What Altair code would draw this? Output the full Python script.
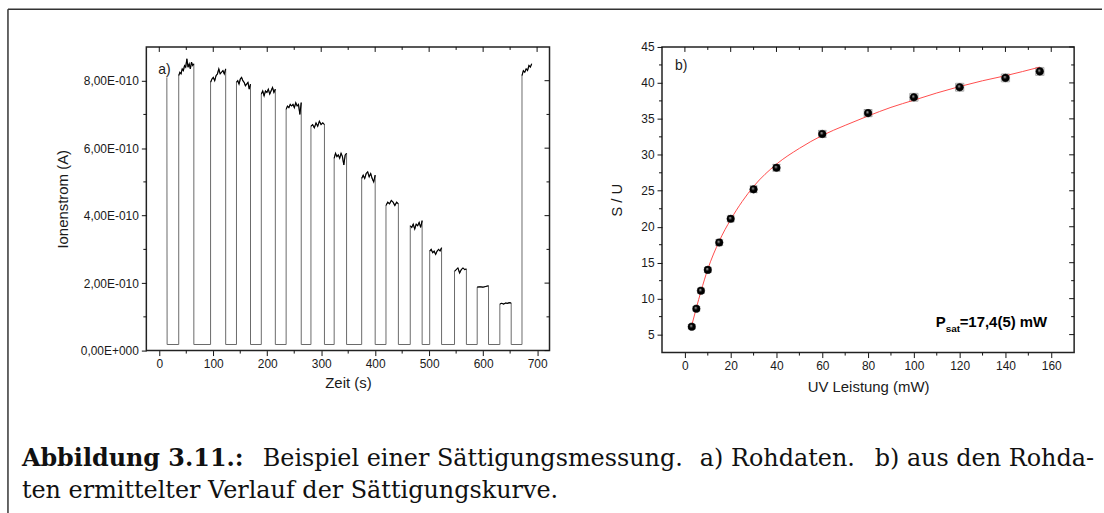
import altair as alt
import pandas as pd

# ---------------- panel a) raw data (ion current, units of 1e-10 A) ----------------
baseline_level = 0.18
spike_t = [14, 14.5]
spike_v = [8.1, 0.18]
plateau_start = [36, 95, 143, 189, 235, 281, 324, 375, 420, 465, 501, 547, 589, 631, 672]
plateau_end = [64, 123, 169, 215, 263, 306, 347, 400, 443, 487, 523, 569, 610, 652, 690]
plateau_values = [
    [8.15, 8.25, 8.2, 8.35, 8.3, 8.45, 8.4, 8.65, 8.4, 8.5, 8.35, 8.55, 8.45, 8.5],
    [7.95, 8.05, 8.1, 8.0, 8.15, 8.2, 8.35, 8.2, 8.25, 8.3, 8.2, 8.35],
    [7.95, 8.0, 7.9, 8.05, 8.1, 8.0, 7.95, 7.85, 7.9, 7.95, 7.75, 7.9],
    [7.6, 7.7, 7.55, 7.7, 7.65, 7.75, 7.6, 7.7, 7.8, 7.65, 7.75],
    [7.15, 7.25, 7.2, 7.3, 7.25, 7.3, 7.2, 7.35, 7.25, 7.3, 7.0, 7.35],
    [6.65, 6.7, 6.6, 6.75, 6.65, 6.8, 6.7, 6.75, 6.7],
    [5.7, 5.85, 5.75, 5.8, 5.7, 5.85, 5.75, 5.5, 5.8, 5.85],
    [5.1, 5.2, 5.1, 5.25, 5.3, 5.15, 5.25, 5.1, 5.0, 5.2],
    [4.3, 4.4, 4.35, 4.45, 4.4, 4.3, 4.4, 4.35],
    [3.7, 3.65, 3.75, 3.6, 3.75, 3.7, 3.8, 3.65, 3.85],
    [2.95, 3.0, 2.9, 2.95, 2.85, 2.95, 3.0, 2.95, 3.05],
    [2.35, 2.4, 2.45, 2.3, 2.4, 2.45, 2.4, 2.42],
    [1.88, 1.89, 1.88, 1.9, 1.92],
    [1.38, 1.4, 1.38, 1.41, 1.4, 1.42, 1.41],
    [8.15, 8.3, 8.25, 8.35, 8.3, 8.45, 8.4, 8.5],
]
left_x_major = [0, 100, 200, 300, 400, 500, 600, 700]
left_x_minor = [50, 150, 250, 350, 450, 550, 650]
left_y_major = [0, 2, 4, 6, 8]
left_y_minor = [1, 3, 5, 7]

# ---------------- panel b) saturation curve ----------------
power = [3, 5, 7, 10, 15, 20, 30, 40, 60, 80, 100, 120, 140, 155]
signal = [6.1, 8.6, 11.1, 14.0, 17.8, 21.1, 25.2, 28.2, 32.9, 35.8, 38.0, 39.4, 40.7, 41.6]
power_err = [0.6, 0.6, 0.6, 0.8, 0.9, 1.0, 1.3, 1.4, 1.6, 1.7, 1.8, 1.8, 1.8, 1.8]
signal_err = [0.3, 0.3, 0.35, 0.35, 0.4, 0.4, 0.45, 0.45, 0.5, 0.5, 0.55, 0.55, 0.55, 0.55]
fit_power = [3, 5, 7, 10, 15, 20, 25, 30, 40, 50, 60, 70, 80, 90, 100, 110, 120, 130, 140, 155]
fit_signal = [6.3, 8.7, 11.0, 14.1, 18.0, 21.0, 23.5, 25.6, 28.7, 30.9, 32.7, 34.1, 35.4, 36.6,
              37.6, 38.6, 39.5, 40.3, 41.0, 42.2]
right_x_major = [0, 20, 40, 60, 80, 100, 120, 140, 160]
right_x_minor = [10, 30, 50, 70, 90, 110, 130, 150]
right_y_major = [5, 10, 15, 20, 25, 30, 35, 40, 45]
right_y_minor = [7.5, 12.5, 17.5, 22.5, 27.5, 32.5, 37.5, 42.5]

caption_bold = "Abbildung 3.11.:"
caption_line1_parts = ["Beispiel einer Sättigungsmessung.", "a) Rohdaten.", "b) aus den Rohda-"]
caption_line2 = "ten ermittelter Verlauf der Sättigungskurve."

# ---------------- build raw series ----------------
rows = []
for t, v in zip(spike_t, spike_v):
    rows.append((t, v, -1))
for i, (s, e, vals) in enumerate(zip(plateau_start, plateau_end, plateau_values)):
    rows.append((s, baseline_level, -1))
    n = len(vals)
    for k, v in enumerate(vals):
        rows.append((s + (e - s) * k / (n - 1), v, i))
    if i < len(plateau_start) - 1:
        rows.append((e, baseline_level, -1))
raw = pd.DataFrame(rows, columns=["t", "v", "plateau"])
raw["i"] = range(len(raw))
tops = raw[raw["plateau"] >= 0]

SANS = "Liberation Sans"
SERIF = "DejaVu Serif"
INK = "#1a1a1a"
CAP_SIZE = 24

W1, H1 = 405, 305
W2, H2 = 414, 307

xs1 = alt.Scale(domain=[-24, 723], nice=False, zero=False)
ys1 = alt.Scale(domain=[0, 9], nice=False, zero=False)
xax1 = alt.Axis(values=left_x_major, title="Zeit (s)", grid=False, domain=False, tickSize=5,
                labelPadding=3, titlePadding=6, format="d")
yax1 = alt.Axis(values=left_y_major, title="Ionenstrom (A)", grid=False, domain=False, tickSize=5,
                labelPadding=3, titlePadding=10,
                labelExpr="datum.value == 0 ? '0,00E+000' : replace(format(datum.value, '.2f'), '.', ',') + 'E-010'")

X1 = lambda f: alt.X(f"{f}:Q", scale=xs1, axis=xax1)
Y1 = lambda f: alt.Y(f"{f}:Q", scale=ys1, axis=yax1)

line_a = alt.Chart(raw).mark_line(color="#6a6a6a", strokeWidth=1).encode(
    x=X1("t"), y=Y1("v"), order="i:Q")
line_tops = alt.Chart(tops).mark_line(color="#000", strokeWidth=1.1).encode(
    x=X1("t"), y=Y1("v"), detail="plateau:N", order="i:Q")

df_xmaj1 = pd.DataFrame({"t": left_x_major})
df_xmin1 = pd.DataFrame({"t": left_x_minor})
df_ymaj1 = pd.DataFrame({"v": left_y_major})
df_ymin1 = pd.DataFrame({"v": left_y_minor})

tick_style = dict(color="#111", strokeWidth=1)
ticks_a = [
    alt.Chart(df_xmin1).mark_rule(**tick_style).encode(x=X1("t"), y=alt.value(H1), y2=alt.value(H1 + 3)),
    alt.Chart(df_xmaj1).mark_rule(**tick_style).encode(x=X1("t"), y=alt.value(0), y2=alt.value(5)),
    alt.Chart(df_xmin1).mark_rule(**tick_style).encode(x=X1("t"), y=alt.value(0), y2=alt.value(3)),
    alt.Chart(df_ymin1).mark_rule(**tick_style).encode(y=Y1("v"), x=alt.value(0), x2=alt.value(-3)),
    alt.Chart(df_ymaj1).mark_rule(**tick_style).encode(y=Y1("v"), x=alt.value(W1), x2=alt.value(W1 - 5)),
    alt.Chart(df_ymin1).mark_rule(**tick_style).encode(y=Y1("v"), x=alt.value(W1), x2=alt.value(W1 - 3)),
]

label_a = alt.Chart().mark_text(font=SANS, fontSize=14, align="left", baseline="alphabetic", color=INK).encode(
    x=alt.value(12), y=alt.value(27), text=alt.value("a)"))


# caption + frame (positioned relative to panel a's plot origin at (145, 44))
def cap_text(txt, x, y, align="left", bold=False):
    return alt.Chart().mark_text(font=SERIF, fontSize=CAP_SIZE, fontWeight="bold" if bold else "normal",
                                 align=align, baseline="alphabetic", color="#111").encode(
        x=alt.value(x), y=alt.value(y), text=alt.value(txt))


caps = [
    cap_text(caption_bold, -125, 421, bold=True),
    cap_text(caption_line1_parts[0], 117, 421),
    cap_text(caption_line1_parts[1], 556, 421),
    cap_text(caption_line1_parts[2], 952, 421, align="right"),
    cap_text(caption_line2, -125, 453),
]
frame_l = alt.Chart().mark_rule(color="#333", strokeWidth=1.5).encode(
    x=alt.value(-139), y=alt.value(-38), y2=alt.value(470))
frame_t = alt.Chart().mark_rule(color="#333", strokeWidth=1.5).encode(
    x=alt.value(-139), x2=alt.value(960), y=alt.value(-38))

panel_a = alt.layer(line_a, line_tops, *ticks_a, label_a, *caps, frame_l, frame_t).properties(
    width=W1, height=H1)

# ---------------- panel b ----------------
xs2 = alt.Scale(domain=[-10, 170], nice=False, zero=False)
ys2 = alt.Scale(domain=[2.5, 45], nice=False, zero=False)
xax2 = alt.Axis(values=right_x_major, title="UV Leistung (mW)", grid=False, domain=False, tickSize=5,
                labelPadding=3, titlePadding=8, format="d")
yax2 = alt.Axis(values=right_y_major, title="S / U", grid=False, domain=False, tickSize=5,
                labelPadding=3, titlePadding=16, format="d")
X2 = lambda f: alt.X(f"{f}:Q", scale=xs2, axis=xax2)
Y2 = lambda f: alt.Y(f"{f}:Q", scale=ys2, axis=yax2)

pts = pd.DataFrame({"p": power, "s": signal, "pe": power_err, "se": signal_err})
pts["p_lo"] = pts["p"] - pts["pe"]
pts["p_hi"] = pts["p"] + pts["pe"]
pts["s_lo"] = pts["s"] - pts["se"]
pts["s_hi"] = pts["s"] + pts["se"]
fit = pd.DataFrame({"p": fit_power, "s": fit_signal})

err_col = "#888"
err_h = alt.Chart(pts).mark_rule(color=err_col, strokeWidth=1).encode(
    x=X2("p_lo"), x2="p_hi:Q", y=Y2("s"))
err_v = alt.Chart(pts).mark_rule(color=err_col, strokeWidth=1).encode(
    x=X2("p"), y=Y2("s_lo"), y2="s_hi:Q")
cap_l = alt.Chart(pts).mark_tick(color=err_col, orient="vertical", size=8, thickness=1).encode(
    x=X2("p_lo"), y=Y2("s"))
cap_r = alt.Chart(pts).mark_tick(color=err_col, orient="vertical", size=8, thickness=1).encode(
    x=X2("p_hi"), y=Y2("s"))
cap_t = alt.Chart(pts).mark_tick(color=err_col, orient="horizontal", size=8, thickness=1).encode(
    x=X2("p"), y=Y2("s_hi"))
cap_bt = alt.Chart(pts).mark_tick(color=err_col, orient="horizontal", size=8, thickness=1).encode(
    x=X2("p"), y=Y2("s_lo"))

fit_line = alt.Chart(fit).mark_line(color="#ff4d4d", strokeWidth=1, interpolate="monotone").encode(
    x=X2("p"), y=Y2("s"))

sphere = alt.Gradient(gradient="radial", x1=0.38, y1=0.35, r1=0.0, x2=0.5, y2=0.5, r2=0.5,
                      stops=[alt.GradientStop(offset=0, color="#ffffff"),
                             alt.GradientStop(offset=0.2, color="#666666"),
                             alt.GradientStop(offset=0.5, color="#000000"),
                             alt.GradientStop(offset=1, color="#000000")])
dots = alt.Chart(pts).mark_point(filled=True, size=58, fill=sphere, opacity=1, stroke="#000",
                                 strokeWidth=0.5).encode(x=X2("p"), y=Y2("s"))

df_xmaj2 = pd.DataFrame({"p": right_x_major})
df_xmin2 = pd.DataFrame({"p": right_x_minor})
df_ymaj2 = pd.DataFrame({"s": right_y_major})
df_ymin2 = pd.DataFrame({"s": right_y_minor})
ticks_b = [
    alt.Chart(df_xmin2).mark_rule(**tick_style).encode(x=X2("p"), y=alt.value(H2), y2=alt.value(H2 + 3)),
    alt.Chart(df_xmaj2).mark_rule(**tick_style).encode(x=X2("p"), y=alt.value(0), y2=alt.value(5)),
    alt.Chart(df_xmin2).mark_rule(**tick_style).encode(x=X2("p"), y=alt.value(0), y2=alt.value(3)),
    alt.Chart(df_ymin2).mark_rule(**tick_style).encode(y=Y2("s"), x=alt.value(0), x2=alt.value(-3)),
    alt.Chart(df_ymaj2).mark_rule(**tick_style).encode(y=Y2("s"), x=alt.value(W2), x2=alt.value(W2 - 5)),
    alt.Chart(df_ymin2).mark_rule(**tick_style).encode(y=Y2("s"), x=alt.value(W2), x2=alt.value(W2 - 3)),
]

label_b = alt.Chart().mark_text(font=SANS, fontSize=14, align="left", baseline="alphabetic", color=INK).encode(
    x=alt.value(13), y=alt.value(23), text=alt.value("b)"))
ps_P = alt.Chart().mark_text(font=SANS, fontSize=15, fontWeight="bold", align="left",
                             baseline="alphabetic", color="#000").encode(
    x=alt.value(275), y=alt.value(281), text=alt.value("P"))
ps_sub = alt.Chart().mark_text(font=SANS, fontSize=10, fontWeight="bold", align="left",
                               baseline="alphabetic", color="#000").encode(
    x=alt.value(285), y=alt.value(286), text=alt.value("sat"))
ps_rest = alt.Chart().mark_text(font=SANS, fontSize=15, fontWeight="bold", align="left",
                                baseline="alphabetic", color="#000").encode(
    x=alt.value(299), y=alt.value(281), text=alt.value("=17,4(5) mW"))

panel_b = alt.layer(err_h, err_v, cap_l, cap_r, cap_t, cap_bt, fit_line, dots, *ticks_b,
                    label_b, ps_P, ps_sub, ps_rest).properties(width=W2, height=H2)

chart = alt.hconcat(panel_a, panel_b, spacing=113, bounds="flush").properties(
    padding={"left": 6, "top": 6, "right": 0, "bottom": 0},
    background="white",
).configure_view(stroke="#222", strokeWidth=1.5).configure_axis(
    labelFont=SANS, labelFontSize=12, labelColor=INK, titleFont=SANS, titleFontSize=15,
    titleFontWeight="normal", titleColor=INK, tickColor="#111", tickWidth=1,
)

chart.save("out.html", embed_options={"renderer": "svg", "actions": False})
